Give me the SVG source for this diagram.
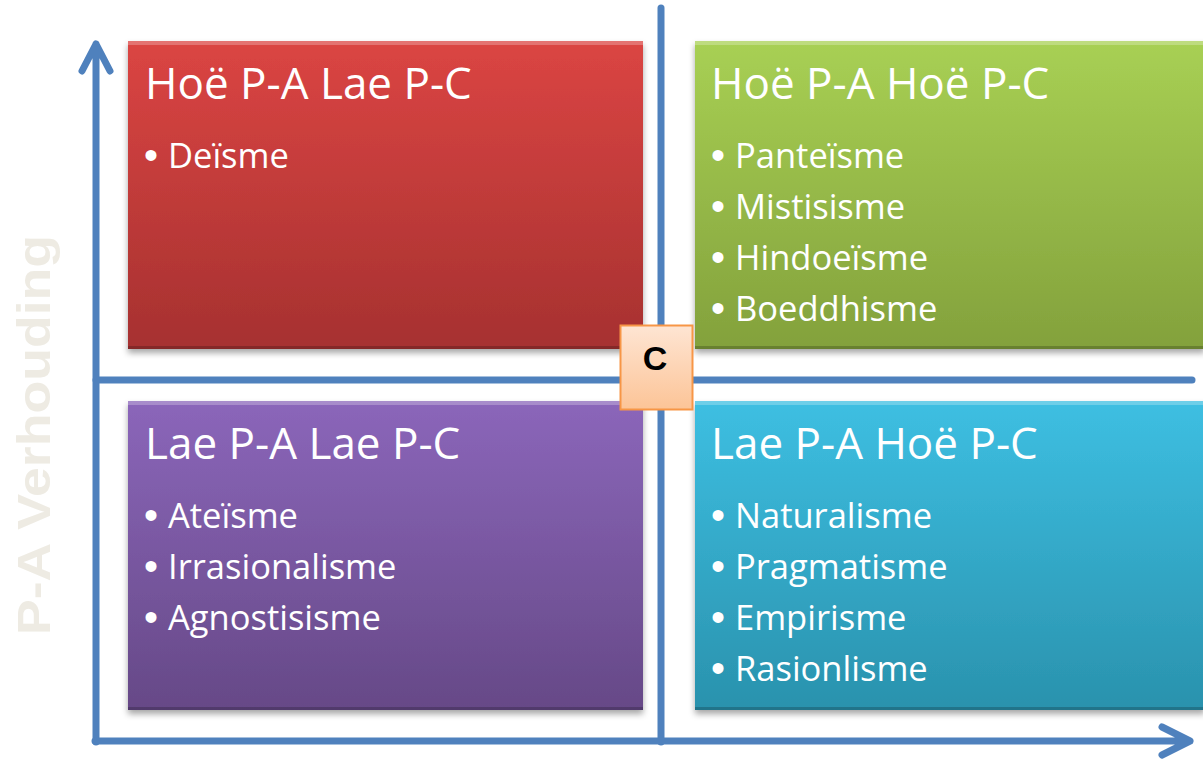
<svg xmlns="http://www.w3.org/2000/svg" width="1203" height="765" viewBox="0 0 1203 765">
<style>
.ax{stroke:#4f81bd;stroke-width:7;fill:none;stroke-linecap:round;stroke-linejoin:round}
.title{font-family:"Open Sans","Liberation Sans",sans-serif;font-size:44px;fill:#fff}
.item{font-family:"Open Sans","Liberation Sans",sans-serif;font-size:34.5px;fill:#fff}
.bul{font-family:"Liberation Sans",sans-serif;font-size:40px;fill:#fff}
.box{filter:url(#sh)}
.hl{fill:#fff;opacity:0.25}
.dk{fill:#000;opacity:0.2}
</style>
<defs>
<linearGradient id="gr" x1="0" y1="0" x2="0" y2="1"><stop offset="0" stop-color="#db4543"/><stop offset="1" stop-color="#a63130"/></linearGradient>
<linearGradient id="gg" x1="0" y1="0" x2="0" y2="1"><stop offset="0" stop-color="#a8d054"/><stop offset="1" stop-color="#83a13c"/></linearGradient>
<linearGradient id="gp" x1="0" y1="0" x2="0" y2="1"><stop offset="0" stop-color="#8b66ba"/><stop offset="1" stop-color="#664987"/></linearGradient>
<linearGradient id="gc" x1="0" y1="0" x2="0" y2="1"><stop offset="0" stop-color="#3dbfe2"/><stop offset="1" stop-color="#2a92ad"/></linearGradient>
<linearGradient id="go" x1="0" y1="0" x2="0" y2="1"><stop offset="0" stop-color="#fee5d3"/><stop offset="1" stop-color="#fcc497"/></linearGradient>
<filter id="sh" x="-5%" y="-5%" width="110%" height="115%"><feDropShadow dx="0" dy="4" stdDeviation="3" flood-color="#000" flood-opacity="0.35"/></filter>
</defs>
<text transform="translate(50,435) rotate(-90)" text-anchor="middle" font-family="Liberation Sans,Arial,sans-serif" font-weight="bold" font-size="46" textLength="400" lengthAdjust="spacingAndGlyphs" fill="#eeebe3">P-A Verhouding</text>
<g id="connectors">
<path class="ax" d="M661,8 V742"/>
<path class="ax" d="M96,380 H1192"/>
<path class="ax" d="M96,742 V44 M82,71 L96,44 L110,71"/>
<path class="ax" d="M95,741 H1190 M1162,727 L1190,741 L1162,755"/>
</g>
<g id="q1">
<rect class="box" x="128" y="41" width="515" height="308" fill="url(#gr)"/>
<rect class="hl" x="128" y="41" width="515" height="4"/>
<rect class="dk" x="128" y="346" width="515" height="3"/>
<text class="title" x="145" y="99">Hoë P-A Lae P-C</text>
<text class="bul" x="144" y="169">•</text><text class="item" x="168" y="168">Deïsme</text>
</g>
<g id="q2">
<rect class="box" x="695" y="41" width="510" height="308" fill="url(#gg)"/>
<rect class="hl" x="695" y="41" width="510" height="4"/>
<rect class="dk" x="695" y="346" width="510" height="3"/>
<text class="title" x="711" y="99">Hoë P-A Hoë P-C</text>
<text class="bul" x="711" y="169">•</text><text class="item" x="735" y="168">Panteïsme</text>
<text class="bul" x="711" y="220">•</text><text class="item" x="735" y="219">Mistisisme</text>
<text class="bul" x="711" y="271">•</text><text class="item" x="735" y="270">Hindoeïsme</text>
<text class="bul" x="711" y="322">•</text><text class="item" x="735" y="321">Boeddhisme</text>
</g>
<g id="q3">
<rect class="box" x="128" y="401" width="515" height="309" fill="url(#gp)"/>
<rect class="hl" x="128" y="401" width="515" height="4"/>
<rect class="dk" x="128" y="707" width="515" height="3"/>
<text class="title" x="145" y="459">Lae P-A Lae P-C</text>
<text class="bul" x="144" y="529">•</text><text class="item" x="168" y="528">Ateïsme</text>
<text class="bul" x="144" y="580">•</text><text class="item" x="168" y="579">Irrasionalisme</text>
<text class="bul" x="144" y="631">•</text><text class="item" x="168" y="630">Agnostisisme</text>
</g>
<g id="q4">
<rect class="box" x="695" y="401" width="510" height="309" fill="url(#gc)"/>
<rect class="hl" x="695" y="401" width="510" height="4"/>
<rect class="dk" x="695" y="707" width="510" height="3"/>
<text class="title" x="711" y="459">Lae P-A Hoë P-C</text>
<text class="bul" x="711" y="529">•</text><text class="item" x="735" y="528">Naturalisme</text>
<text class="bul" x="711" y="580">•</text><text class="item" x="735" y="579">Pragmatisme</text>
<text class="bul" x="711" y="631">•</text><text class="item" x="735" y="630">Empirisme</text>
<text class="bul" x="711" y="682">•</text><text class="item" x="735" y="681">Rasionlisme</text>
</g>
<g id="center">
<rect x="620.5" y="325.5" width="72" height="84" fill="url(#go)" stroke="#f79646" stroke-width="2"/>
<text x="655" y="370" text-anchor="middle" font-family="Liberation Sans,Arial,sans-serif" font-weight="bold" font-size="34" fill="#000">C</text>
</g>
</svg>
